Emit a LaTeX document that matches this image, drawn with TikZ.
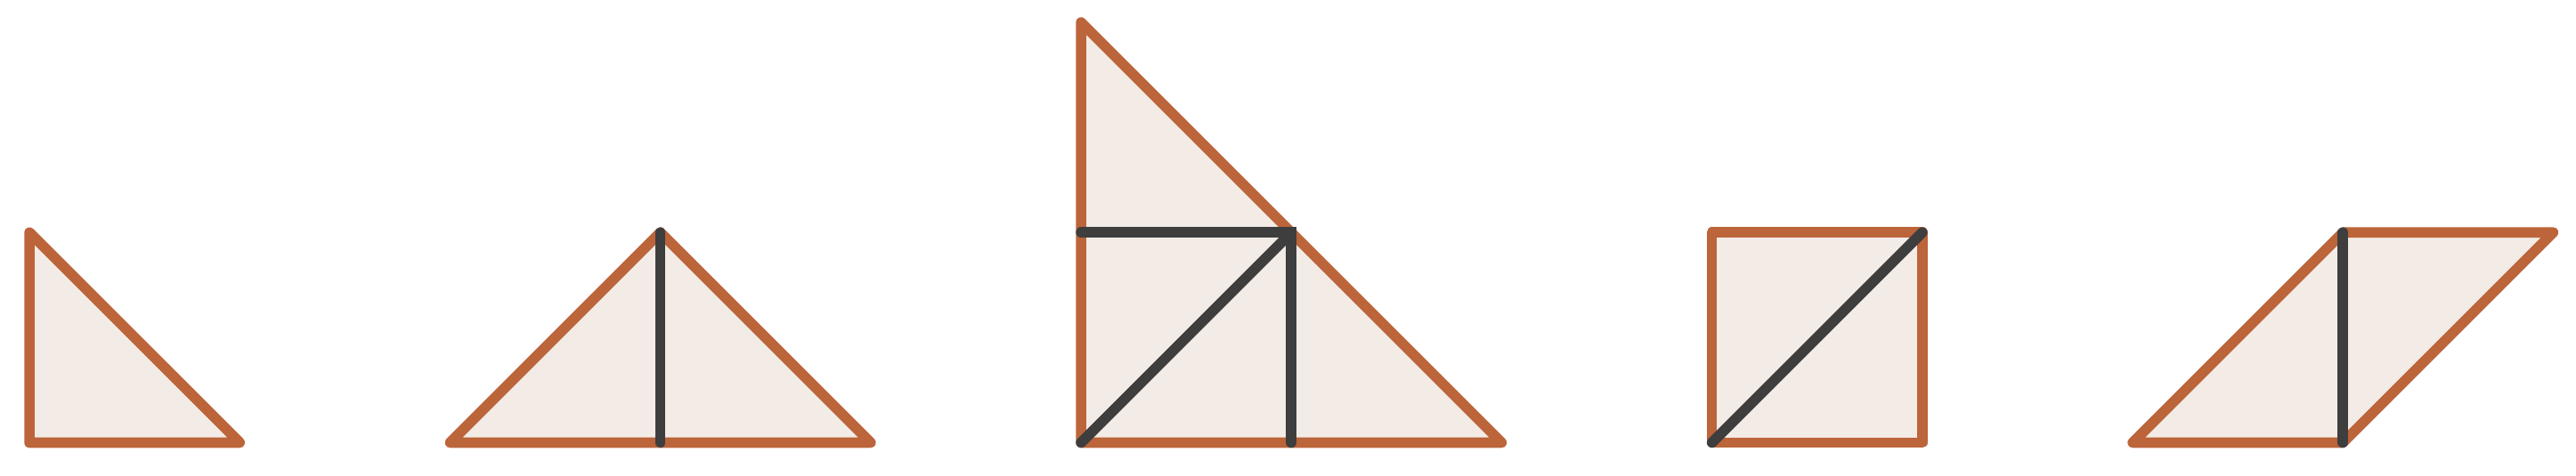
\documentclass[tikz,border=0pt]{standalone}
\usepackage{tikz}
\definecolor{edgeColor}{RGB}{188, 100, 58}
\definecolor{pieceFill}{RGB}{243, 235, 230}
\definecolor{cutColor}{RGB}{62, 62, 62}
\tikzset{
    piece_shape/.style={
        draw=edgeColor,
        fill=pieceFill,
        line width=1.4pt,
        line join=round,
        line cap=round
    },
    cut_line/.style={
        draw=cutColor,
        line width=1.4pt,
        line cap=round
    }
}
\begin{document}
\begin{tikzpicture}
        \useasboundingbox (-0.140,-0.157) rectangle (12.108,2.106);

        % named corners of the five figures
        \coordinate (t1a) at (0,1);  \coordinate (t1b) at (0,0);  \coordinate (t1c) at (1,0);
        \coordinate (t2a) at (2,0);  \coordinate (t2b) at (3,1);  \coordinate (t2c) at (4,0);
        \coordinate (t2m) at (3,0);
        \coordinate (bta) at (5,2);  \coordinate (btb) at (5,0);  \coordinate (btc) at (7,0);
        \coordinate (btl) at (5,1);  \coordinate (btm) at (6,1);  \coordinate (btf) at (6,0);
        \coordinate (sqa) at (8,0);  \coordinate (sqb) at (9,0);
        \coordinate (sqc) at (9,1);  \coordinate (sqd) at (8,1);
        \coordinate (pga) at (10,0); \coordinate (pgb) at (11,1);
        \coordinate (pgc) at (12,1); \coordinate (pgd) at (11,0);

        % outlines
        \draw[piece_shape] (t1a) -- (t1b) -- (t1c) -- cycle;
        \draw[piece_shape] (t2a) -- (t2b) -- (t2c) -- cycle;
        \draw[piece_shape] (bta) -- (btb) -- (btc) -- cycle;
        \draw[piece_shape] (sqa) -- (sqb) -- (sqc) -- (sqd) -- cycle;
        \draw[piece_shape] (pga) -- (pgb) -- (pgc) -- (pgd) -- cycle;

        % cuts
        \draw[cut_line] (t2b) -- (t2m);
        \draw[cut_line] (btl) -- (btm) -- (btf);
        \draw[cut_line] (btb) -- (btm);
        \draw[cut_line] (sqa) -- (sqc);
        \draw[cut_line] (pgb) -- (pgd);
    \end{tikzpicture}
\end{document}
